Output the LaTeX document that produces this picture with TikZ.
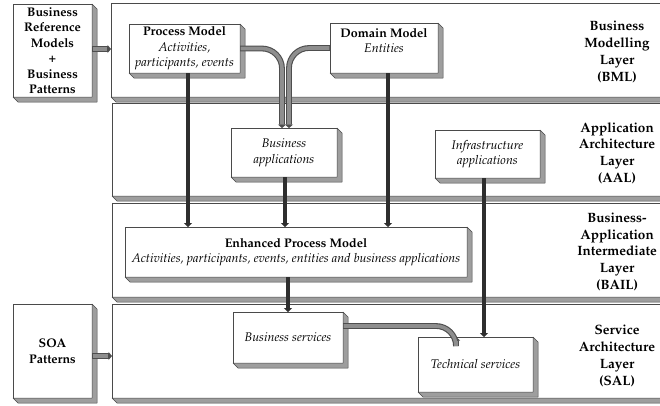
\documentclass[tikz,border=0pt]{standalone}
\usepackage[T1]{fontenc}
\renewcommand\rmdefault{ppl}
\usetikzlibrary{arrows.meta,calc}

\definecolor{edgecol}{HTML}{4A4A4A}
\definecolor{sidecol}{HTML}{9E9E9E}
\definecolor{pipeedge}{HTML}{4E4E4E}
\definecolor{pipefill}{HTML}{8E8E8E}
\definecolor{darkline}{HTML}{2E2E2E}

\newcommand\boxfont{\fontsize{12.5bp}{15.5bp}\selectfont}
\newcommand\labelfont{\fontsize{13.5bp}{16.7bp}\selectfont\bfseries}

% lower-right extrusion of a named rectangular node
\newcommand\extrude[2][5]{%
  \filldraw[side] (#2.north east) -- ++(#1,#1)
    -- ($(#2.south east)+(#1,#1)$) -- ($(#2.south west)+(#1,#1)$)
    -- (#2.south west) -- (#2.south east) -- cycle;}

% a grey pipe with an outline and a small dark head
\newcommand\pipeline[1]{%
  \draw[pipeout] #1;
  \draw[pipein] #1;}

\tikzset{
  layer/.style={draw=edgecol, fill=white, line width=0.6bp, anchor=north west,
    inner sep=0pt, outer sep=0pt, minimum width=580bp},
  box/.style={draw=edgecol, fill=white, line width=0.6bp, inner sep=0pt,
    outer sep=0pt, align=center, font=\boxfont},
  side/.style={draw=edgecol, fill=sidecol, line width=0.5bp, line join=round},
  lbl/.style={align=center, font=\labelfont},
  pipeout/.style={draw=pipeedge, line width=5.8bp, rounded corners=20bp,
    -{Triangle[length=3.5bp,width=8bp]}},
  pipein/.style={draw=pipefill, line width=3.6bp, rounded corners=20bp,
    shorten >=4bp, shorten <=0.6bp},
  darkarrow/.style={draw=darkline, line width=4.2bp,
    -{Triangle[length=4bp,width=8bp]}},
}

\begin{document}
\begin{tikzpicture}[x=1bp, y=-1bp]
\clip (0,0) rectangle (660,405);
\fill[white] (0,0) rectangle (660,405);

% layers
\node[layer, minimum height=94bp] (bml)  at (111,3)   {};
\extrude{bml}
\node[layer, minimum height=93bp] (aal)  at (112,103) {};
\extrude{aal}
\node[layer, minimum height=94bp] (bail) at (112,203) {};
\extrude{bail}
\node[layer, minimum height=94bp] (sal)  at (112,304) {};
\extrude{sal}

% layer titles
\node[lbl] (tbml)  at (617,52)  {Business\\Modelling\\Layer\\(BML)};
\node[lbl] (taal)  at (617,153) {Application\\Architecture\\Layer\\(AAL)};
\node[lbl] (tbail) at (617,252) {Business-\\Application\\Intermediate\\Layer\\(BAIL)};
\node[lbl] (tsal)  at (617,356) {Service\\Architecture\\Layer\\(SAL)};

% inputs on the left
\node[box, font=\boxfont\bfseries, minimum width=79bp, minimum height=93bp] (brm)
  at (52.5,50.5) {Business\\Reference\\Models\\+\\Business\\Patterns};
\extrude{brm}
\node[box, font=\boxfont\bfseries, minimum width=79bp, minimum height=94bp] (soa)
  at (52.5,351) {SOA\\Patterns};
\extrude{soa}

% models and applications
\node[box, minimum width=111bp, minimum height=49bp] (pm) at (184.5,48.5)
  {\textbf{Process Model}\\\textit{Activities,}\\\textit{participants, events}};
\extrude{pm}
\node[box, minimum width=108bp, minimum height=50bp] (dm) at (384,48)
  {\textbf{Domain Model}\\\textit{Entities}\\\mbox{}};
\extrude{dm}
\node[box, minimum width=106bp, minimum height=49bp] (ba) at (284,152.5)
  {\textit{Business}\\\textit{applications}};
\extrude{ba}
\node[box, minimum width=105bp, minimum height=48bp] (ia) at (487.5,154)
  {\textit{Infrastructure}\\\textit{applications}};
\extrude{ia}
\node[box, minimum width=342bp, minimum height=50bp] (epm) at (296,252)
  {\textbf{Enhanced Process Model}\\\textit{Activities, participants, events, entities and business applications}};
\extrude{epm}
\node[box, minimum width=110bp, minimum height=51bp] (bs) at (288,337.5)
  {\textit{Business services}};
\extrude{bs}
\node[box, minimum width=115bp, minimum height=55bp] (ts) at (475.5,364.5)
  {\textit{Technical services}};
\extrude{ts}

% grey pipes
\pipeline{([yshift=1.5bp]brm.east) -- ([yshift=1.5bp]brm.east -| bml.west)}
\pipeline{([yshift=-5bp]soa.east) -- ([yshift=-5bp]soa.east -| sal.west)}
\pipeline{(pm.east) -| ([xshift=-2bp]ba.north)}
\pipeline{(dm.west) -| ([xshift=5bp]ba.north)}
\pipeline{([yshift=11.5bp]bs.east) -| ([xshift=-19.5bp]ts.north)}

% dark arrows
\draw[darkarrow] ([xshift=3.5bp]pm.south) -- ([xshift=3.5bp]pm.south |- epm.north);
\draw[darkarrow] ([xshift=4bp]dm.south) -- ([xshift=4bp]dm.south |- epm.north);
\draw[darkarrow] ([xshift=1bp]ba.south) -- ([xshift=1bp]ba.south |- epm.north);
\draw[darkarrow] (epm.south -| bs.north) -- (bs.north);
\draw[darkarrow] ([xshift=-3.5bp]ia.south) -- ([xshift=-3.5bp]ia.south |- ts.north);
\end{tikzpicture}
\end{document}
